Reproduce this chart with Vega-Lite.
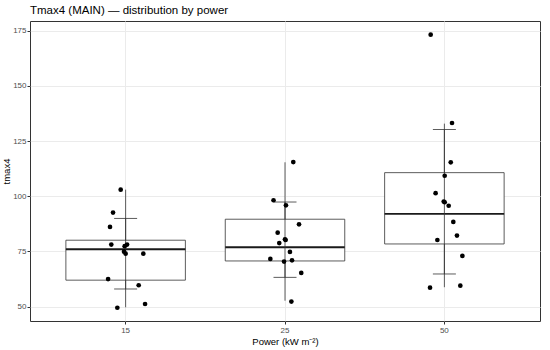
{
  "$schema": "https://vega.github.io/schema/vega-lite/v6.json",
  "width": 510,
  "height": 300,
  "autosize": {"type": "none"},
  "padding": {"left": 30, "top": 21, "right": 10, "bottom": 29},
  "background": "white",
  "title": {"text": "Tmax4 (MAIN) — distribution by power", "anchor": "start", "frame": "group", "font": "Liberation Sans", "fontSize": 11.5, "fontWeight": "normal", "color": "#000000", "offset": 5},
  "config": {
    "view": {"stroke": "#333333", "strokeWidth": 1},
    "axis": {"labelFont": "Liberation Sans", "titleFont": "Liberation Sans", "labelFontSize": 8, "labelColor": "#4D4D4D", "titleFontSize": 9.5, "titleFontWeight": "normal", "titleColor": "#000000", "tickColor": "#333333", "tickSize": 3, "domain": false, "gridColor": "#EBEBEB", "gridWidth": 1}
  },
  "datasets": {
    "pts": [
      {"power": "15", "tmax4": 103.0, "dx": -0.031},
      {"power": "15", "tmax4": 92.6, "dx": -0.079},
      {"power": "15", "tmax4": 86.1, "dx": -0.098},
      {"power": "15", "tmax4": 78.1, "dx": -0.090},
      {"power": "15", "tmax4": 78.1, "dx": 0.009},
      {"power": "15", "tmax4": 77.4, "dx": -0.006},
      {"power": "15", "tmax4": 74.9, "dx": -0.010},
      {"power": "15", "tmax4": 74.0, "dx": 0.000},
      {"power": "15", "tmax4": 74.0, "dx": 0.111},
      {"power": "15", "tmax4": 62.5, "dx": -0.110},
      {"power": "15", "tmax4": 59.7, "dx": 0.082},
      {"power": "15", "tmax4": 51.2, "dx": 0.122},
      {"power": "15", "tmax4": 49.5, "dx": -0.052},
      {"power": "25", "tmax4": 115.5, "dx": 0.052},
      {"power": "25", "tmax4": 98.2, "dx": -0.072},
      {"power": "25", "tmax4": 95.9, "dx": 0.006},
      {"power": "25", "tmax4": 87.3, "dx": 0.088},
      {"power": "25", "tmax4": 83.5, "dx": -0.046},
      {"power": "25", "tmax4": 80.5, "dx": 0.000},
      {"power": "25", "tmax4": 80.2, "dx": 0.004},
      {"power": "25", "tmax4": 78.8, "dx": -0.036},
      {"power": "25", "tmax4": 74.8, "dx": 0.031},
      {"power": "25", "tmax4": 71.6, "dx": -0.092},
      {"power": "25", "tmax4": 71.0, "dx": 0.044},
      {"power": "25", "tmax4": 70.4, "dx": -0.006},
      {"power": "25", "tmax4": 65.3, "dx": 0.102},
      {"power": "25", "tmax4": 52.3, "dx": 0.040},
      {"power": "50", "tmax4": 173.2, "dx": -0.086},
      {"power": "50", "tmax4": 133.2, "dx": 0.048},
      {"power": "50", "tmax4": 115.4, "dx": 0.040},
      {"power": "50", "tmax4": 109.3, "dx": 0.002},
      {"power": "50", "tmax4": 101.4, "dx": -0.055},
      {"power": "50", "tmax4": 97.6, "dx": -0.004},
      {"power": "50", "tmax4": 97.3, "dx": 0.002},
      {"power": "50", "tmax4": 95.7, "dx": 0.027},
      {"power": "50", "tmax4": 88.4, "dx": 0.056},
      {"power": "50", "tmax4": 82.2, "dx": 0.079},
      {"power": "50", "tmax4": 80.2, "dx": -0.044},
      {"power": "50", "tmax4": 73.0, "dx": 0.113},
      {"power": "50", "tmax4": 59.5, "dx": 0.100},
      {"power": "50", "tmax4": 58.6, "dx": -0.090}
    ],
    "summ": [
      {"power": "15", "q1": 62.0, "med": 76.0, "q3": 80.1, "wlo": 49.7, "whi": 103.0, "lo": 58.0, "hi": 90.0},
      {"power": "25", "q1": 70.7, "med": 76.9, "q3": 89.6, "wlo": 52.7, "whi": 115.4, "lo": 63.3, "hi": 97.4},
      {"power": "50", "q1": 78.4, "med": 92.0, "q3": 110.7, "wlo": 58.8, "whi": 132.9, "lo": 64.8, "hi": 130.2}
    ]
  },
  "encoding": {
    "x": {"field": "power", "type": "nominal", "sort": ["15", "25", "50"], "title": "Power (kW m⁻²)",
      "scale": {"paddingInner": 0.25, "paddingOuter": 0.225},
      "axis": {"labelAngle": 0, "labelPadding": 2, "titlePadding": 2, "grid": true}}
  },
  "layer": [
    {
      "data": {"name": "summ"},
      "mark": {"type": "rule", "color": "#333333", "strokeWidth": 0.8},
      "encoding": {
        "y": {"field": "wlo", "type": "quantitative", "title": "tmax4",
          "scale": {"domain": [43.5, 179.4], "nice": false, "zero": false},
          "axis": {"values": [50, 62.5, 75, 87.5, 100, 112.5, 125, 137.5, 150, 162.5, 175],
            "labelExpr": "datum.value % 25 === 0 ? datum.label : ''",
            "tickOpacity": {"condition": {"test": "datum.value % 25 !== 0", "value": 0}, "value": 1},
            "gridWidth": {"condition": {"test": "datum.value % 25 !== 0", "value": 0.5}, "value": 1},
            "labelPadding": 1, "titlePadding": 1, "grid": true}},
        "y2": {"field": "whi"}
      }
    },
    {
      "data": {"name": "summ"},
      "mark": {"type": "bar", "fill": "white", "stroke": "#333333", "strokeWidth": 0.8, "size": 119.5},
      "encoding": {
        "y": {"field": "q1", "type": "quantitative"},
        "y2": {"field": "q3"}
      }
    },
    {
      "data": {"name": "summ"},
      "mark": {"type": "tick", "color": "#1A1A1A", "size": 119.5, "thickness": 1.8, "opacity": 1},
      "encoding": {
        "y": {"field": "med", "type": "quantitative"}
      }
    },
    {
      "data": {"name": "summ"},
      "mark": {"type": "rule", "color": "#333333", "strokeWidth": 0.8},
      "encoding": {
        "y": {"field": "lo", "type": "quantitative"},
        "y2": {"field": "hi"}
      }
    },
    {
      "data": {"name": "summ"},
      "mark": {"type": "tick", "color": "#333333", "size": 23, "thickness": 0.8, "opacity": 1},
      "encoding": {
        "y": {"field": "lo", "type": "quantitative"}
      }
    },
    {
      "data": {"name": "summ"},
      "mark": {"type": "tick", "color": "#333333", "size": 23, "thickness": 0.8, "opacity": 1},
      "encoding": {
        "y": {"field": "hi", "type": "quantitative"}
      }
    },
    {
      "data": {"name": "pts"},
      "mark": {"type": "point", "filled": true, "color": "#000000", "size": 22, "opacity": 1},
      "encoding": {
        "y": {"field": "tmax4", "type": "quantitative"},
        "xOffset": {"field": "dx", "type": "quantitative", "scale": {"domain": [-0.375, 0.375]}}
      }
    }
  ]
}
